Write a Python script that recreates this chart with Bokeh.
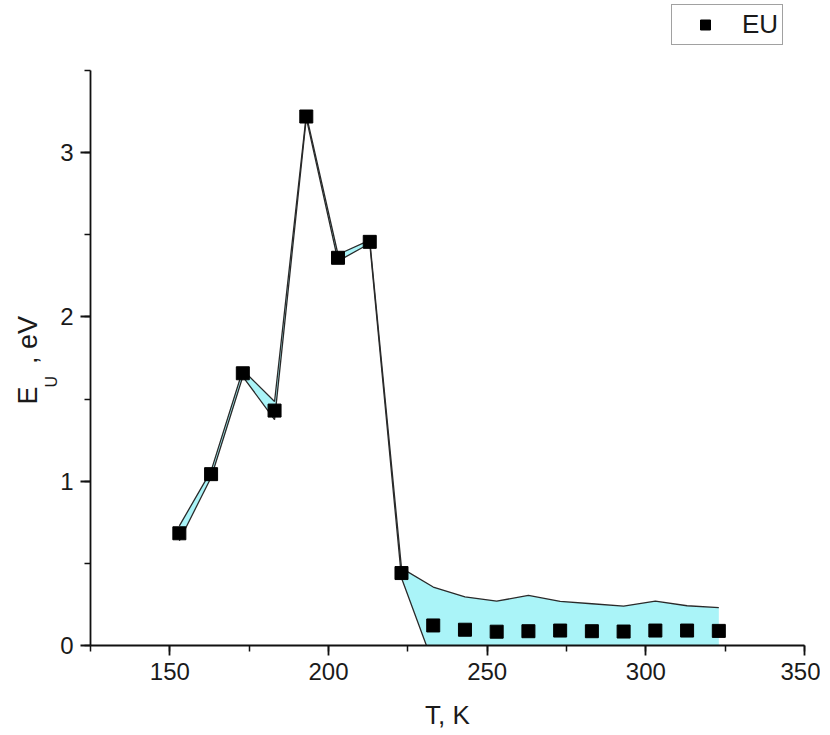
from bokeh.plotting import figure
from bokeh.models import (Range1d, SingleIntervalTicker, Legend, LegendItem, Title)
from bokeh.embed import file_html
from bokeh.resources import INLINE

# ---- data ----
T = [153, 163, 173, 183, 193, 203, 213, 223, 233, 243, 253, 263, 273, 283, 293, 303, 313, 323]
EU = [0.683, 1.043, 1.657, 1.430, 3.220, 2.360, 2.457, 0.441, 0.122, 0.096, 0.084, 0.087,
      0.091, 0.087, 0.085, 0.091, 0.091, 0.089]
ERR = [0.045, 0.02, 0.02, 0.055, 0.01, 0.02, 0.01, 0.03, 0.234, 0.200, 0.186, 0.218,
       0.177, 0.167, 0.155, 0.179, 0.151, 0.141]
x_tick_interval = 50
y_tick_interval = 1
x_label = "T, K"
y_label_main = "E\u00a0\u00a0\u00a0, eV"
y_label_sub = "U"
legend_label = "EU"

upper = [v + e for v, e in zip(EU, ERR)]
lower = [v - e for v, e in zip(EU, ERR)]

FONT = "Liberation Sans"
X0, X1, Y0, Y1 = 125, 350, 0, 3.5
AXIS_TOP_PX = 70          # where the y axis ends (value Y1), page pixels
FL, FW, FH = 90, 714, 645  # frame starts at canvas top so the legend fits inside
Y_END = Y0 + (Y1 - Y0) * FH / (FH - AXIS_TOP_PX)

p = figure(title=None, frame_width=FW, frame_height=FH, width=820, height=730,
           output_backend="svg", toolbar_location=None,
           x_range=Range1d(X0, X1), y_range=Range1d(Y0, Y_END),
           min_border_left=FL, min_border_top=0, min_border_right=16, min_border_bottom=85)
p.outline_line_color = None
p.grid.visible = False

p.varea(x=T, y1=lower, y2=upper, fill_color="#aaf4f8", fill_alpha=1.0)
p.line(T, upper, line_color="#2a2a2a", line_width=1.3)
p.line(T, lower, line_color="#2a2a2a", line_width=1.3)
pts = p.scatter(T, EU, marker="square", size=13, fill_color="black", line_color="black")

# axes
p.xaxis.ticker = SingleIntervalTicker(interval=x_tick_interval, num_minor_ticks=2)
p.yaxis.ticker = SingleIntervalTicker(interval=y_tick_interval, num_minor_ticks=2)
p.yaxis.bounds = (Y0, Y1)
for ax in (p.xaxis[0], p.yaxis[0]):
    ax.axis_line_width = 1.8
    ax.axis_line_color = "#111111"
    ax.major_tick_line_width = 1.8
    ax.minor_tick_line_width = 1.5
    ax.major_tick_line_color = "#111111"
    ax.minor_tick_line_color = "#111111"
    ax.major_tick_in = 0
    ax.major_tick_out = 10
    ax.minor_tick_in = 0
    ax.minor_tick_out = 6
    ax.major_label_text_font = FONT
    ax.major_label_text_font_size = "24px"
    ax.major_label_text_color = "#1a1a1a"
    ax.major_label_standoff = 7

p.xaxis.axis_label = x_label
p.xaxis.axis_label_text_font = FONT
p.xaxis.axis_label_text_font_size = "26px"
p.xaxis.axis_label_text_font_style = "normal"
p.xaxis.axis_label_text_color = "#1a1a1a"
p.xaxis.axis_label_standoff = 17

# y-axis title built from two titles on the left: subscript next to the axis
p.add_layout(Title(text=y_label_sub, align="left", offset=645 - 387, standoff=-4,
                   text_font=FONT, text_font_size="16px", text_font_style="normal",
                   text_color="#1a1a1a"), "left")
p.add_layout(Title(text=y_label_main, align="left", offset=645 - 404, standoff=0,
                   text_font=FONT, text_font_size="27px", text_font_style="normal",
                   text_color="#1a1a1a"), "left")

legend = Legend(items=[LegendItem(label=legend_label, renderers=[pts])], location=(581, 600),
                label_text_font=FONT, label_text_font_size="26px", label_text_color="#1a1a1a",
                border_line_color="#444444", border_line_width=1.3,
                glyph_width=58, glyph_height=25, padding=4, spacing=0,
                label_standoff=8, margin=0, background_fill_alpha=1.0)
p.add_layout(legend)

open("out.html", "w").write(file_html(p, INLINE))
